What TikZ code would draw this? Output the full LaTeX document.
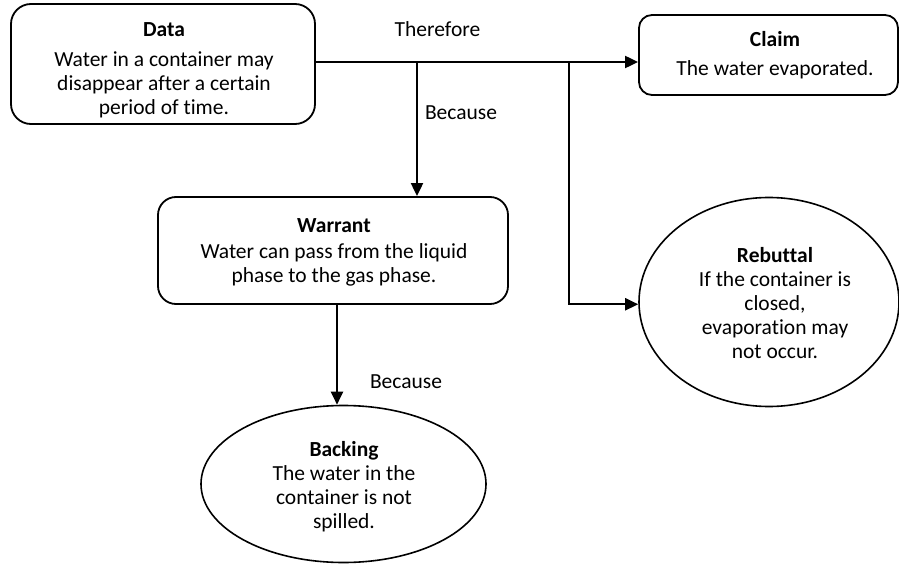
\documentclass[tikz,border=0pt]{standalone}
\usepackage{fontspec}
\setmainfont[Ligatures=NoCommon]{Carlito}
\usetikzlibrary{arrows.meta,shapes.geometric,calc}
\begin{document}
\begin{tikzpicture}[x=1pt,y=-1pt,
  box/.style={draw,line width=1.8pt,rectangle,inner sep=0pt},
  oval/.style={draw,line width=1.6pt,ellipse,inner sep=0pt},
  txt/.style={align=center,inner sep=0pt,font=\fontsize{21.5}{24}\selectfont},
  lbl/.style={inner sep=0pt,font=\fontsize{21.5}{24}\selectfont},
  conn/.style={line width=2pt},
  arr/.style={line width=2pt,-{Triangle[length=13pt,width=12pt]}}]
\useasboundingbox (0,0) rectangle (899,564);
% shapes
\node[box,rounded corners=20pt,minimum width=304pt,minimum height=120pt] (data) at (163,64) {};
\node[box,rounded corners=13pt,minimum width=259pt,minimum height=80pt] (claim) at (768.5,55) {};
\node[box,rounded corners=18pt,minimum width=350pt,minimum height=107pt] (warrant) at (333,250.5) {};
\node[oval,minimum width=260pt,minimum height=209pt] (rebuttal) at (769,302) {};
\node[oval,minimum width=285pt,minimum height=157pt] (backing) at (343.5,484) {};
% texts
\node[txt] (dataT) at (164,70) {\textbf{Data}\\[6pt]Water in a container may\\disappear after a certain\\period of time.};
\node[txt] (claimT) at (775,55.5) {\textbf{Claim}\\[5pt]The water evaporated.};
\node[txt] (warrantT) at (334,252.5) {\textbf{Warrant}\\[2pt]Water can pass from the liquid\\phase to the gas phase.};
\node[txt] (rebuttalT) at (775,303) {\textbf{Rebuttal}\\If the container is\\closed,\\evaporation may\\not occur.};
\node[txt] (backingT) at (344,487) {\textbf{Backing}\\The water in the\\container is not\\spilled.};
% labels
\node[lbl] (therefore) at (437.5,29) {Therefore};
\node[lbl] (because1) at (461,113) {Because};
\node[lbl] (because2) at (406,382) {Because};
% junctions
\coordinate (jy) at (0,62);
\coordinate (jw) at (417,62);
\coordinate (jr) at (569,62);
\coordinate (bk) at (337,0);
% connectors
\draw[arr] (data.east |- jy) -- (claim.west |- jy);
\draw[arr] (jw) -- (warrant.north -| jw);
\draw[arr] (jr) |- (rebuttal.181);
\draw[arr] (warrant.south -| bk) -- (backing.north -| bk);
\end{tikzpicture}
\end{document}
